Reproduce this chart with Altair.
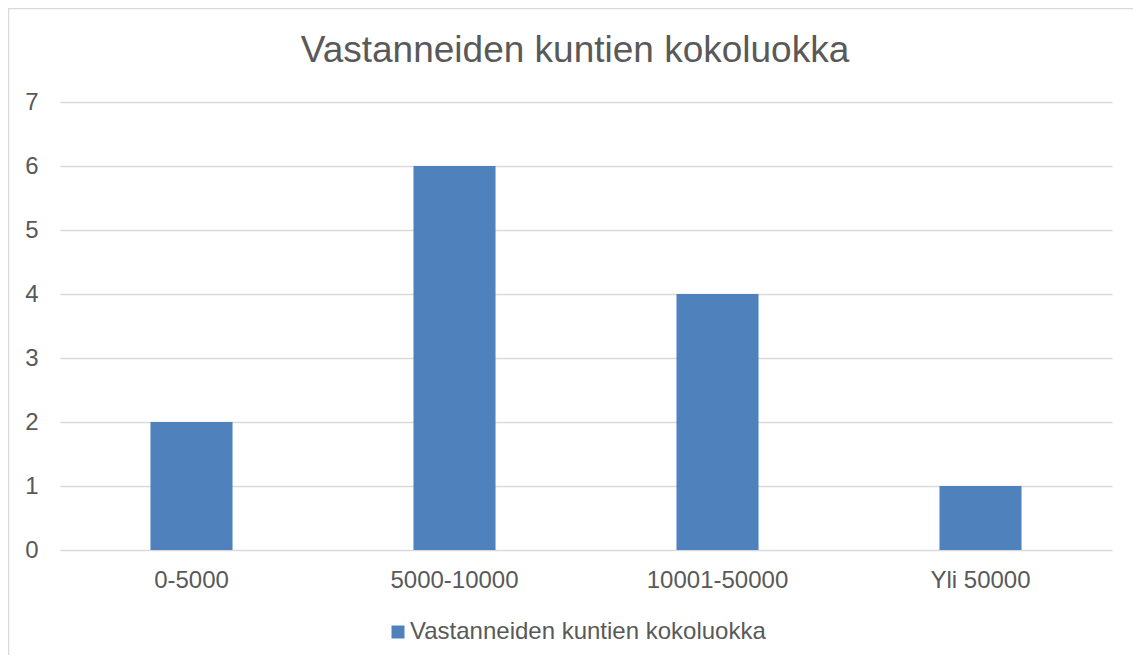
import altair as alt
import pandas as pd

categories = ["0-5000", "5000-10000", "10001-50000", "Yli 50000"]
values = [2, 6, 4, 1]
series_name = "Vastanneiden kuntien kokoluokka"
title_text = "Vastanneiden kuntien kokoluokka"

df = pd.DataFrame({"kokoluokka": categories, "arvo": values, "sarja": [series_name] * len(categories)})

FONT = "Liberation Sans"
TXT = "#595959"
GRID = "#D9D9D9"
BAR = "#4F81BD"

frame = alt.Chart(pd.DataFrame({"d": [0]})).mark_rect(
    fill=None, stroke=GRID, strokeWidth=1.5
).encode(
    x=alt.value(-51.5), x2=alt.value(1200), y=alt.value(-93.5), y2=alt.value(700)
)

bars = alt.Chart(df).mark_bar(color=BAR).encode(
    x=alt.X("kokoluokka:N", sort=categories, title=None,
            scale=alt.Scale(paddingInner=0.688, paddingOuter=0.344),
            axis=alt.Axis(labelAngle=0, domain=False, ticks=False, labelPadding=18,
                          labelFontSize=24, labelColor=TXT, labelFont=FONT, grid=False)),
    y=alt.Y("arvo:Q", title=None, scale=alt.Scale(domain=[0, 7], nice=False),
            axis=alt.Axis(values=list(range(8)), domain=False, ticks=False, labelPadding=22,
                          labelFontSize=24, labelColor=TXT, labelFont=FONT,
                          gridColor=GRID, gridWidth=1.3)),
    color=alt.Color("sarja:N", scale=alt.Scale(range=[BAR]), title=None,
                    legend=alt.Legend(orient="none", legendX=326, legendY=518,
                                      symbolType="square", symbolSize=169, symbolStrokeWidth=0,
                                      labelFontSize=24, labelColor=TXT, labelFont=FONT,
                                      labelOffset=0, labelLimit=0, direction="horizontal")),
)

chart = alt.layer(frame, bars).properties(
    width=1052, height=448,
    padding={"left": 52, "top": 94, "right": 21, "bottom": 105},
    autosize=alt.AutoSizeParams(type="none"),
    title=alt.TitleParams(title_text, fontSize=37, font=FONT, color=TXT, fontWeight="normal",
                          anchor="middle", offset=-62, dx=-11),
).configure_view(stroke=None)

chart.save("out.html", embed_options={"renderer": "svg", "actions": False})
